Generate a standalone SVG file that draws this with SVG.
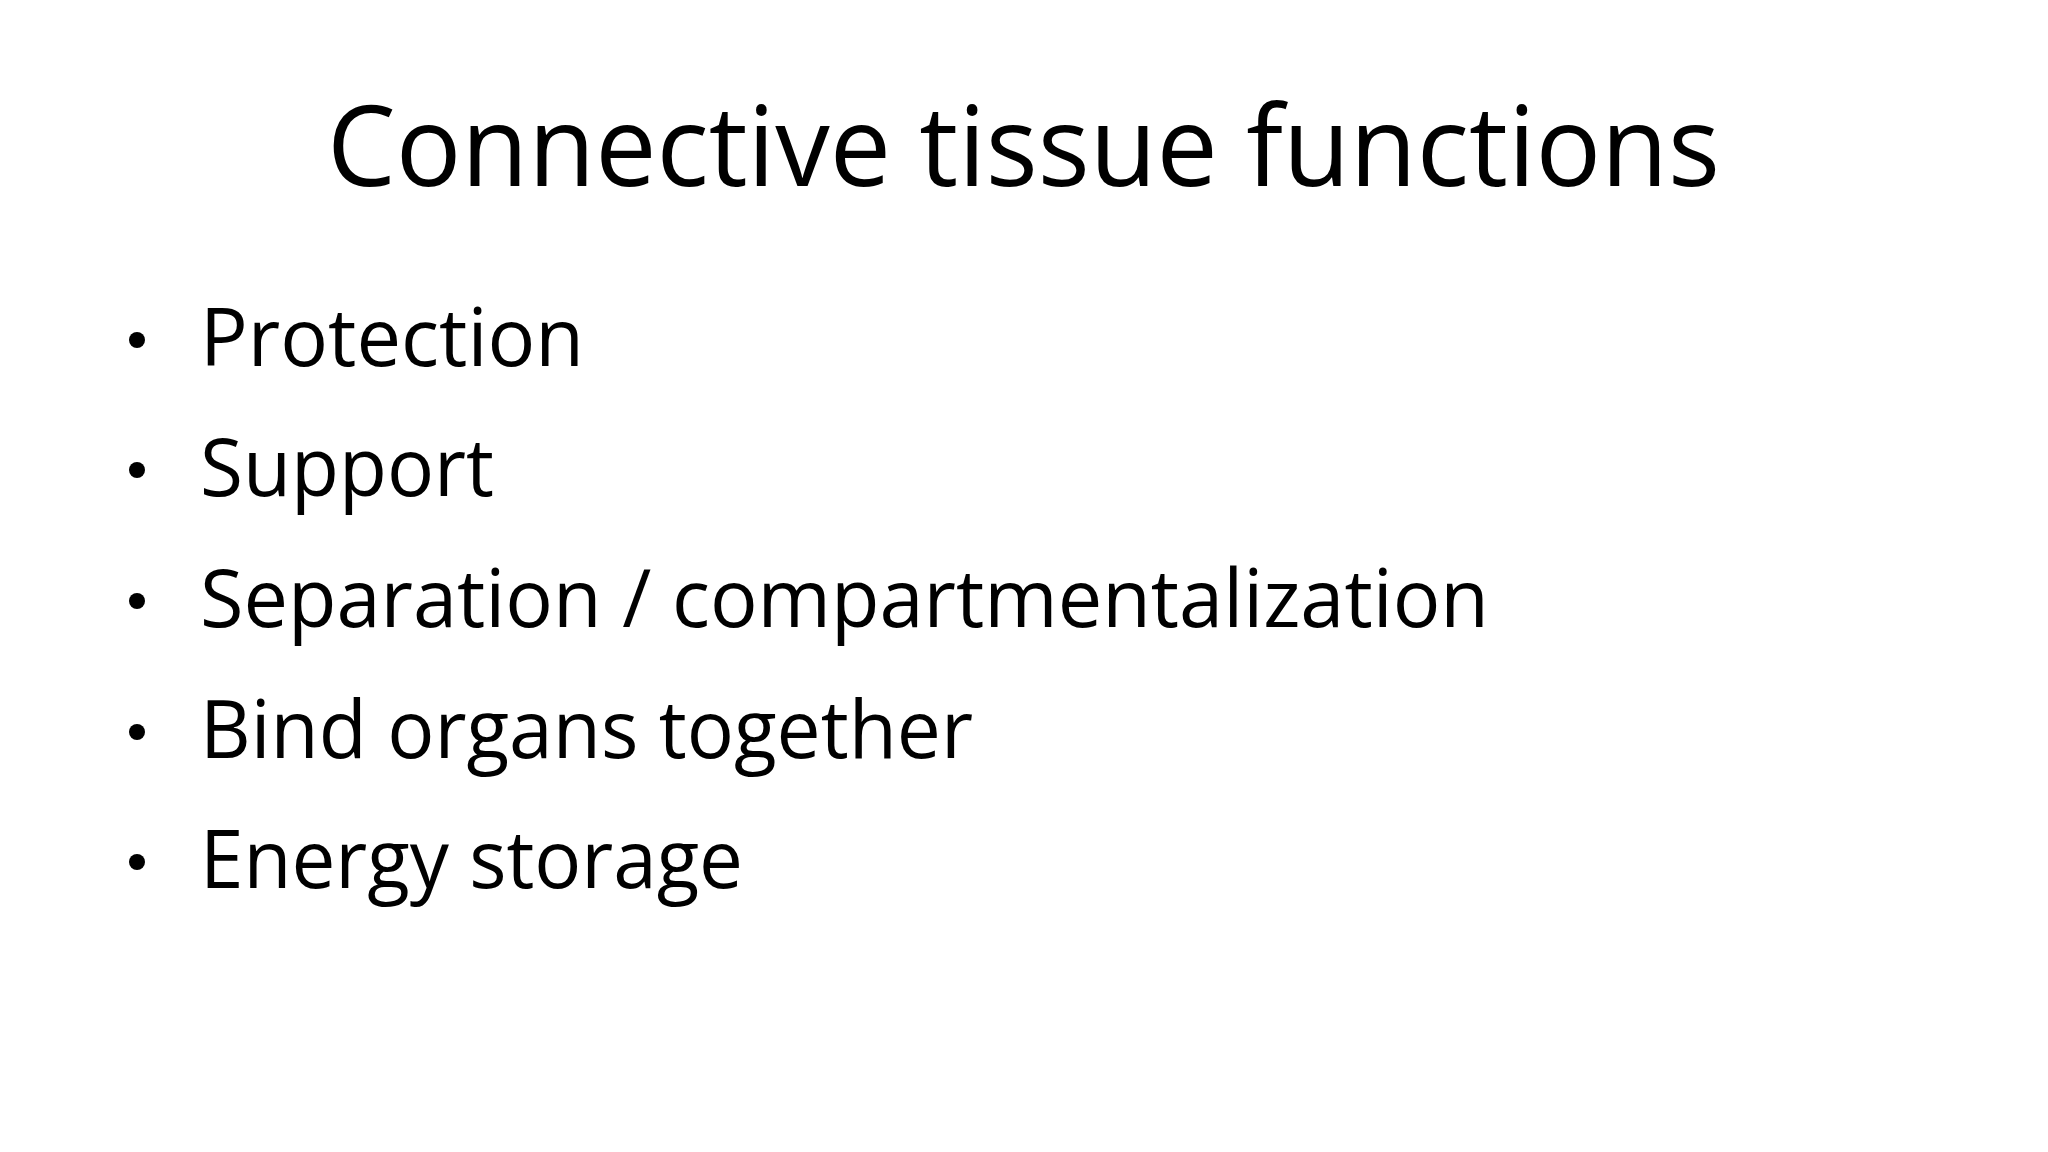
<svg xmlns="http://www.w3.org/2000/svg" width="2048" height="1152" viewBox="0 0 2048 1152">
<style>
text{font-family:"Open Sans","Noto Sans",sans-serif;fill:#000}
.t{font-size:112px}
.b{font-size:80px}
</style>
<rect width="2048" height="1152" fill="#fff"/>
<g id="title"><text class="t" x="327" y="186" textLength="1393" lengthAdjust="spacingAndGlyphs">Connective tissue functions</text></g>
<g id="bullets">
<g id="b1"><circle cx="137" cy="340" r="8"/><text class="b" x="200" y="366" textLength="384" lengthAdjust="spacingAndGlyphs">Protection</text></g>
<g id="b2"><circle cx="137" cy="470" r="8"/><text class="b" x="200" y="496" textLength="294" lengthAdjust="spacingAndGlyphs">Support</text></g>
<g id="b3"><circle cx="137" cy="601" r="8"/><text class="b" x="200" y="627" textLength="1289" lengthAdjust="spacingAndGlyphs">Separation / compartmentalization</text></g>
<g id="b4"><circle cx="137" cy="732" r="8"/><text class="b" x="200" y="758" textLength="773" lengthAdjust="spacingAndGlyphs">Bind organs together</text></g>
<g id="b5"><circle cx="137" cy="862" r="8"/><text class="b" x="200" y="888" textLength="543" lengthAdjust="spacingAndGlyphs">Energy storage</text></g>
</g>
</svg>
